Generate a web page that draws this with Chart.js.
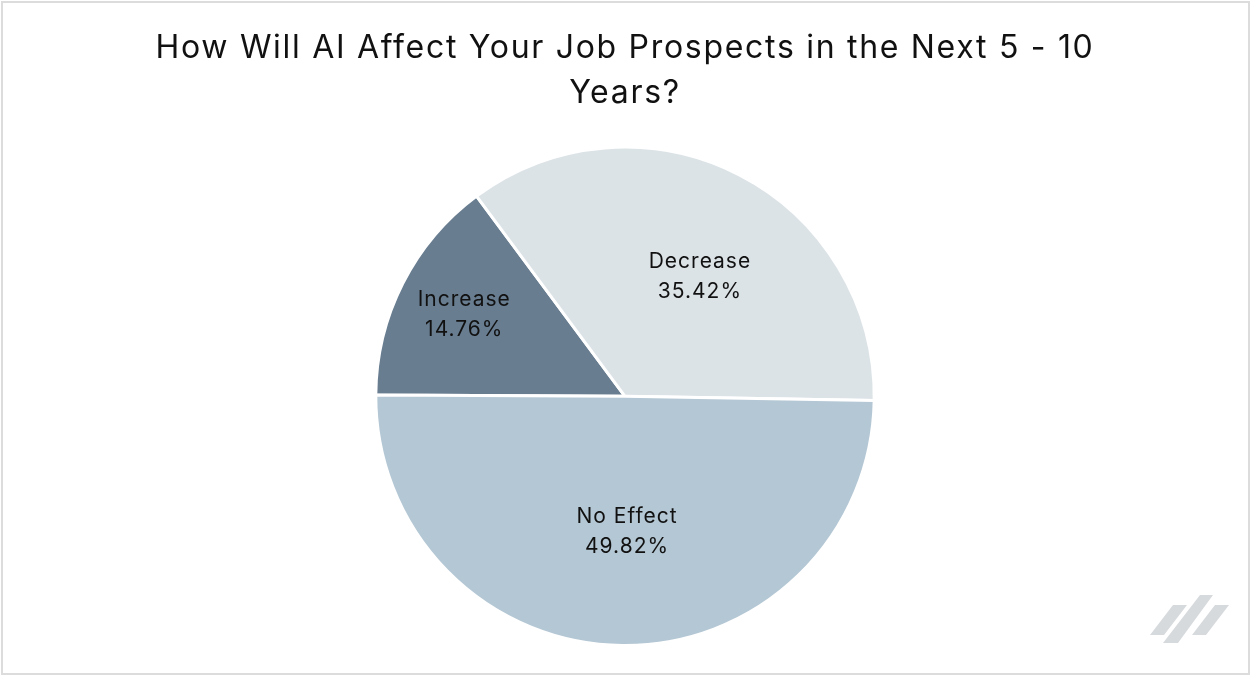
<!DOCTYPE html>
<html>
<head>
<meta charset="utf-8">
<script src="https://cdn.jsdelivr.net/npm/chart.js@4.4.1/dist/chart.umd.min.js"></script>
<style>
  html, body { margin: 0; padding: 0; background: #fff; }
  #wrap { position: relative; width: 1250px; height: 675px; }
  #frame { position: absolute; left: 1px; top: 1px; width: 1245px; height: 670px; border: 2px solid #dcdcdc; pointer-events: none; }
</style>
</head>
<body>
<div id="wrap">
  <canvas id="pie" width="1250" height="675"></canvas>
  <div id="frame"></div>
</div>
<script>
// datos de la encuesta
const categories = ["Increase", "Decrease", "No Effect"];
const shares = [14.76, 35.42, 49.82];
const sliceColors = ["#687d90", "#dce3e7", "#b4c7d4"];
// posición de cada etiqueta: fracción del radio y giro (grados) respecto al ángulo medio
const labelRadius = [0.723, 0.566, 0.542];
const labelTurn = [0, 4.9, -1.5];

const FONT = "Inter, 'Liberation Sans', sans-serif";

// espaciado de letras para título y etiquetas
const spacing = {
    id: 'spacing',
    beforeDraw(chart) { chart.ctx.letterSpacing = '1.7px'; },
    afterDraw(chart) { chart.ctx.letterSpacing = '0px'; }
};

// etiquetas dentro de cada porción
const sliceLabels = {
    id: 'sliceLabels',
    afterDatasetsDraw(chart) {
        const { ctx } = chart;
        const meta = chart.getDatasetMeta(0);
        ctx.save();
        ctx.letterSpacing = '1px';
        ctx.fillStyle = '#111';
        ctx.font = '21px ' + FONT;
        ctx.textAlign = 'center';
        ctx.textBaseline = 'middle';
        meta.data.forEach((arc, i) => {
            const p = arc.getProps(['x', 'y', 'startAngle', 'endAngle', 'outerRadius'], true);
            const mid = (p.startAngle + p.endAngle) / 2 + labelTurn[i] * Math.PI / 180;
            const r = p.outerRadius * labelRadius[i];
            const x = p.x + Math.cos(mid) * r;
            const y = p.y + Math.sin(mid) * r;
            ctx.fillText(categories[i], x, y - 15);
            ctx.fillText(shares[i].toFixed(2) + '%', x, y + 15);
        });
        ctx.restore();
    }
};

// logo de rayas en la esquina
const cornerMark = {
    id: 'cornerMark',
    afterDraw(chart) {
        const { ctx } = chart;
        ctx.save();
        ctx.fillStyle = '#d6dadd';
        const stripes = [
            [[1173, 605], [1187, 605], [1164, 635], [1150, 635]],
            [[1200, 595], [1213, 595], [1178, 643], [1163, 643]],
            [[1215, 605], [1229, 605], [1206, 635], [1192, 635]]
        ];
        stripes.forEach(s => {
            ctx.beginPath();
            ctx.moveTo(s[0][0], s[0][1]);
            s.slice(1).forEach(pt => ctx.lineTo(pt[0], pt[1]));
            ctx.closePath();
            ctx.fill();
        });
        ctx.restore();
    }
};

new Chart(document.getElementById('pie'), {
    type: 'pie',
    data: {
        labels: categories,
        datasets: [{
            data: shares,
            backgroundColor: sliceColors,
            borderColor: '#ffffff',
            borderWidth: 3
        }]
    },
    options: {
        responsive: false,
        animation: false,
        rotation: -89.7,
        layout: { padding: { top: 0, bottom: 28, left: 0, right: 0 } },
        plugins: {
            legend: { display: false },
            tooltip: { enabled: false },
            title: {
                display: true,
                text: ["How Will AI Affect Your Job Prospects in the Next 5 - 10", "Years?"],
                color: '#111',
                font: { family: FONT, size: 32, weight: 'normal', lineHeight: 1.4 },
                padding: { top: 26, bottom: 30 }
            }
        }
    },
    plugins: [spacing, sliceLabels, cornerMark]
});
</script>
</body>
</html>
